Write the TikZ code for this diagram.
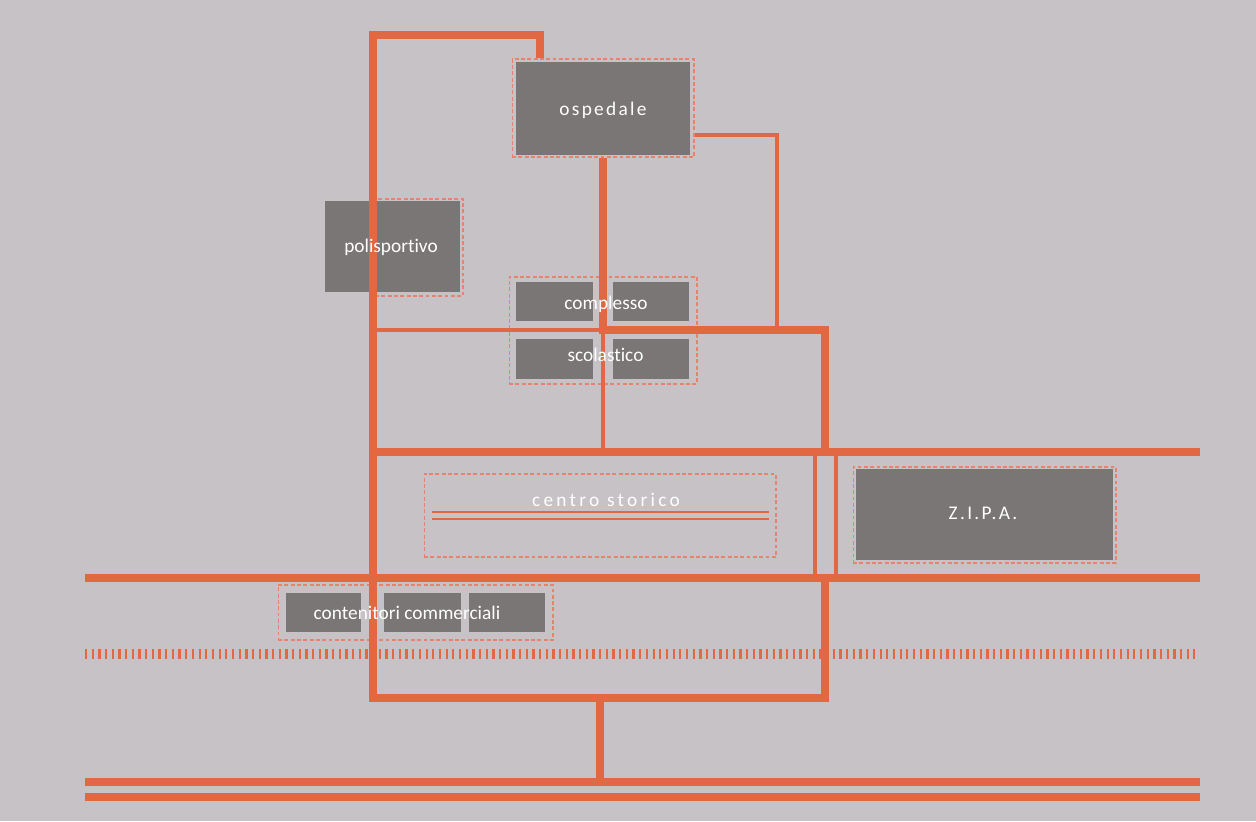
\documentclass[tikz,border=0pt]{standalone}
\usepackage{fontspec}
\setmainfont{Carlito}[Ligatures=NoCommon]
\newfontfamily\spaced[LetterSpace=12]{Carlito}
\newfontfamily\wide[LetterSpace=17]{Carlito}
\usetikzlibrary{positioning,calc}
\definecolor{paper}{HTML}{C6C2C5}
\definecolor{roadred}{HTML}{E26844}
\definecolor{zoneline}{HTML}{E6826E}
\definecolor{blockgrey}{HTML}{7A7675}

\begin{document}
\begin{tikzpicture}[x=0.02cm, y=-0.02cm,
    block/.style={rectangle, fill=blockgrey, inner sep=0pt},
    zone/.style={rectangle, draw=zoneline, dash pattern=on 2.2pt off 1.4pt, line width=0.6pt, inner sep=0pt},
    road/.style={draw=roadred, line width=4.6pt},
    lane/.style={draw=roadred, line width=2.3pt},
    trail/.style={draw=roadred, line width=1.8pt},
    ticks/.style={draw=roadred, line width=5.7pt, dash pattern=on 1.3pt off 2.5pt},
    tag/.style={text=white, font=\fontsize{11}{13}\selectfont}
]
    \fill[paper] (0,0) rectangle (1256,821);

    % zones and blocks
    \node[zone, minimum width=3.64cm, minimum height=1.96cm] (ospZone) at (603,108) {};
    \node[block, minimum width=3.48cm, minimum height=1.86cm] (osp) at (603,108.5) {};

    \node[zone, minimum width=1.76cm, minimum height=1.94cm] (polisZone) at (419,247.5) {};
    \node[block, minimum width=2.70cm, minimum height=1.82cm] (polis) at (392.5,246.5) {};

    \node[zone, minimum width=3.76cm, minimum height=2.14cm] (scuolaZone) at (603,330.5) {};
    \node[block, minimum width=1.54cm, minimum height=0.78cm] (sc1) at (554.5,301.5) {};
    \node[block, minimum width=1.52cm, minimum height=0.78cm] (sc2) at (651,301.5) {};
    \node[block, minimum width=1.54cm, minimum height=0.80cm] (sc3) at (554.5,359) {};
    \node[block, minimum width=1.52cm, minimum height=0.80cm] (sc4) at (651,359) {};

    \node[zone, minimum width=7.04cm, minimum height=1.66cm] (centro) at (600,515.5) {};

    \node[zone, minimum width=5.26cm, minimum height=1.92cm] (zipaZone) at (984.5,515) {};
    \node[block, minimum width=5.14cm, minimum height=1.82cm] (zipa) at (984.5,514.5) {};

    \node[zone, minimum width=5.50cm, minimum height=1.10cm] (commZone) at (415.5,612.5) {};
    \node[block, minimum width=1.50cm, minimum height=0.78cm] (cc1) at (323.5,612.5) {};
    \node[block, minimum width=1.54cm, minimum height=0.78cm] (cc2) at (422.5,612.5) {};
    \node[block, minimum width=1.52cm, minimum height=0.78cm] (cc3) at (507,612.5) {};

    % junctions
    \coordinate (drop) at (540,0);
    \coordinate (nw) at (373,35);
    \coordinate (sw) at (373,698);
    \coordinate (se) at (825,698);
    \coordinate (ne) at (825,330);
    \coordinate (knee) at (603,330);
    \coordinate (hook) at (777,135);

    % roads
    \draw[road] (ospZone.north -| drop) |- (nw) -- (sw) -- (se) -- (825,578);
    \draw[road] (ospZone.south) -- (knee) -- (ne) -- (825,452);
    \draw[lane] (nw |- knee) -- (knee) -- (603,452);
    \draw[trail] (ospZone.east |- hook) -- (hook) -- (hook |- ne);
    \draw[road] (nw |- 0,452) -- (1200,452);
    \draw[road] (85,578) -- (1200,578);
    \draw[trail] (815,452) -- (815,578);
    \draw[trail] (836,452) -- (836,578);
    \draw[road] (600,698) -- (600,782);
    \draw[road] (85,782) -- (1200,782);
    \draw[road] (85,797) -- (1200,797);
    \draw[ticks] (85,654) -- (1195,654);
    \draw[roadred, line width=1.2pt] (432,512) -- (769,512);
    \draw[roadred, line width=1.2pt] (432,519) -- (769,519);

    % labels
    \node[tag] (ospText) at (603,110) {\spaced ospedale};
    \node[tag] (polisText) at (391,247) {polisportivo};
    \node[tag] (scText1) at (606,304) {complesso};
    \node[tag] (scText2) at (605.5,355) {scolastico};
    \node[tag] (centroText) at (606,500) {\wide centro storico};
    \node[tag] (zipaText) at (983,513) {\spaced Z.I.P.A.};
    \node[tag] (commText) at (407,613) {contenitori commerciali};
\end{tikzpicture}
\end{document}
